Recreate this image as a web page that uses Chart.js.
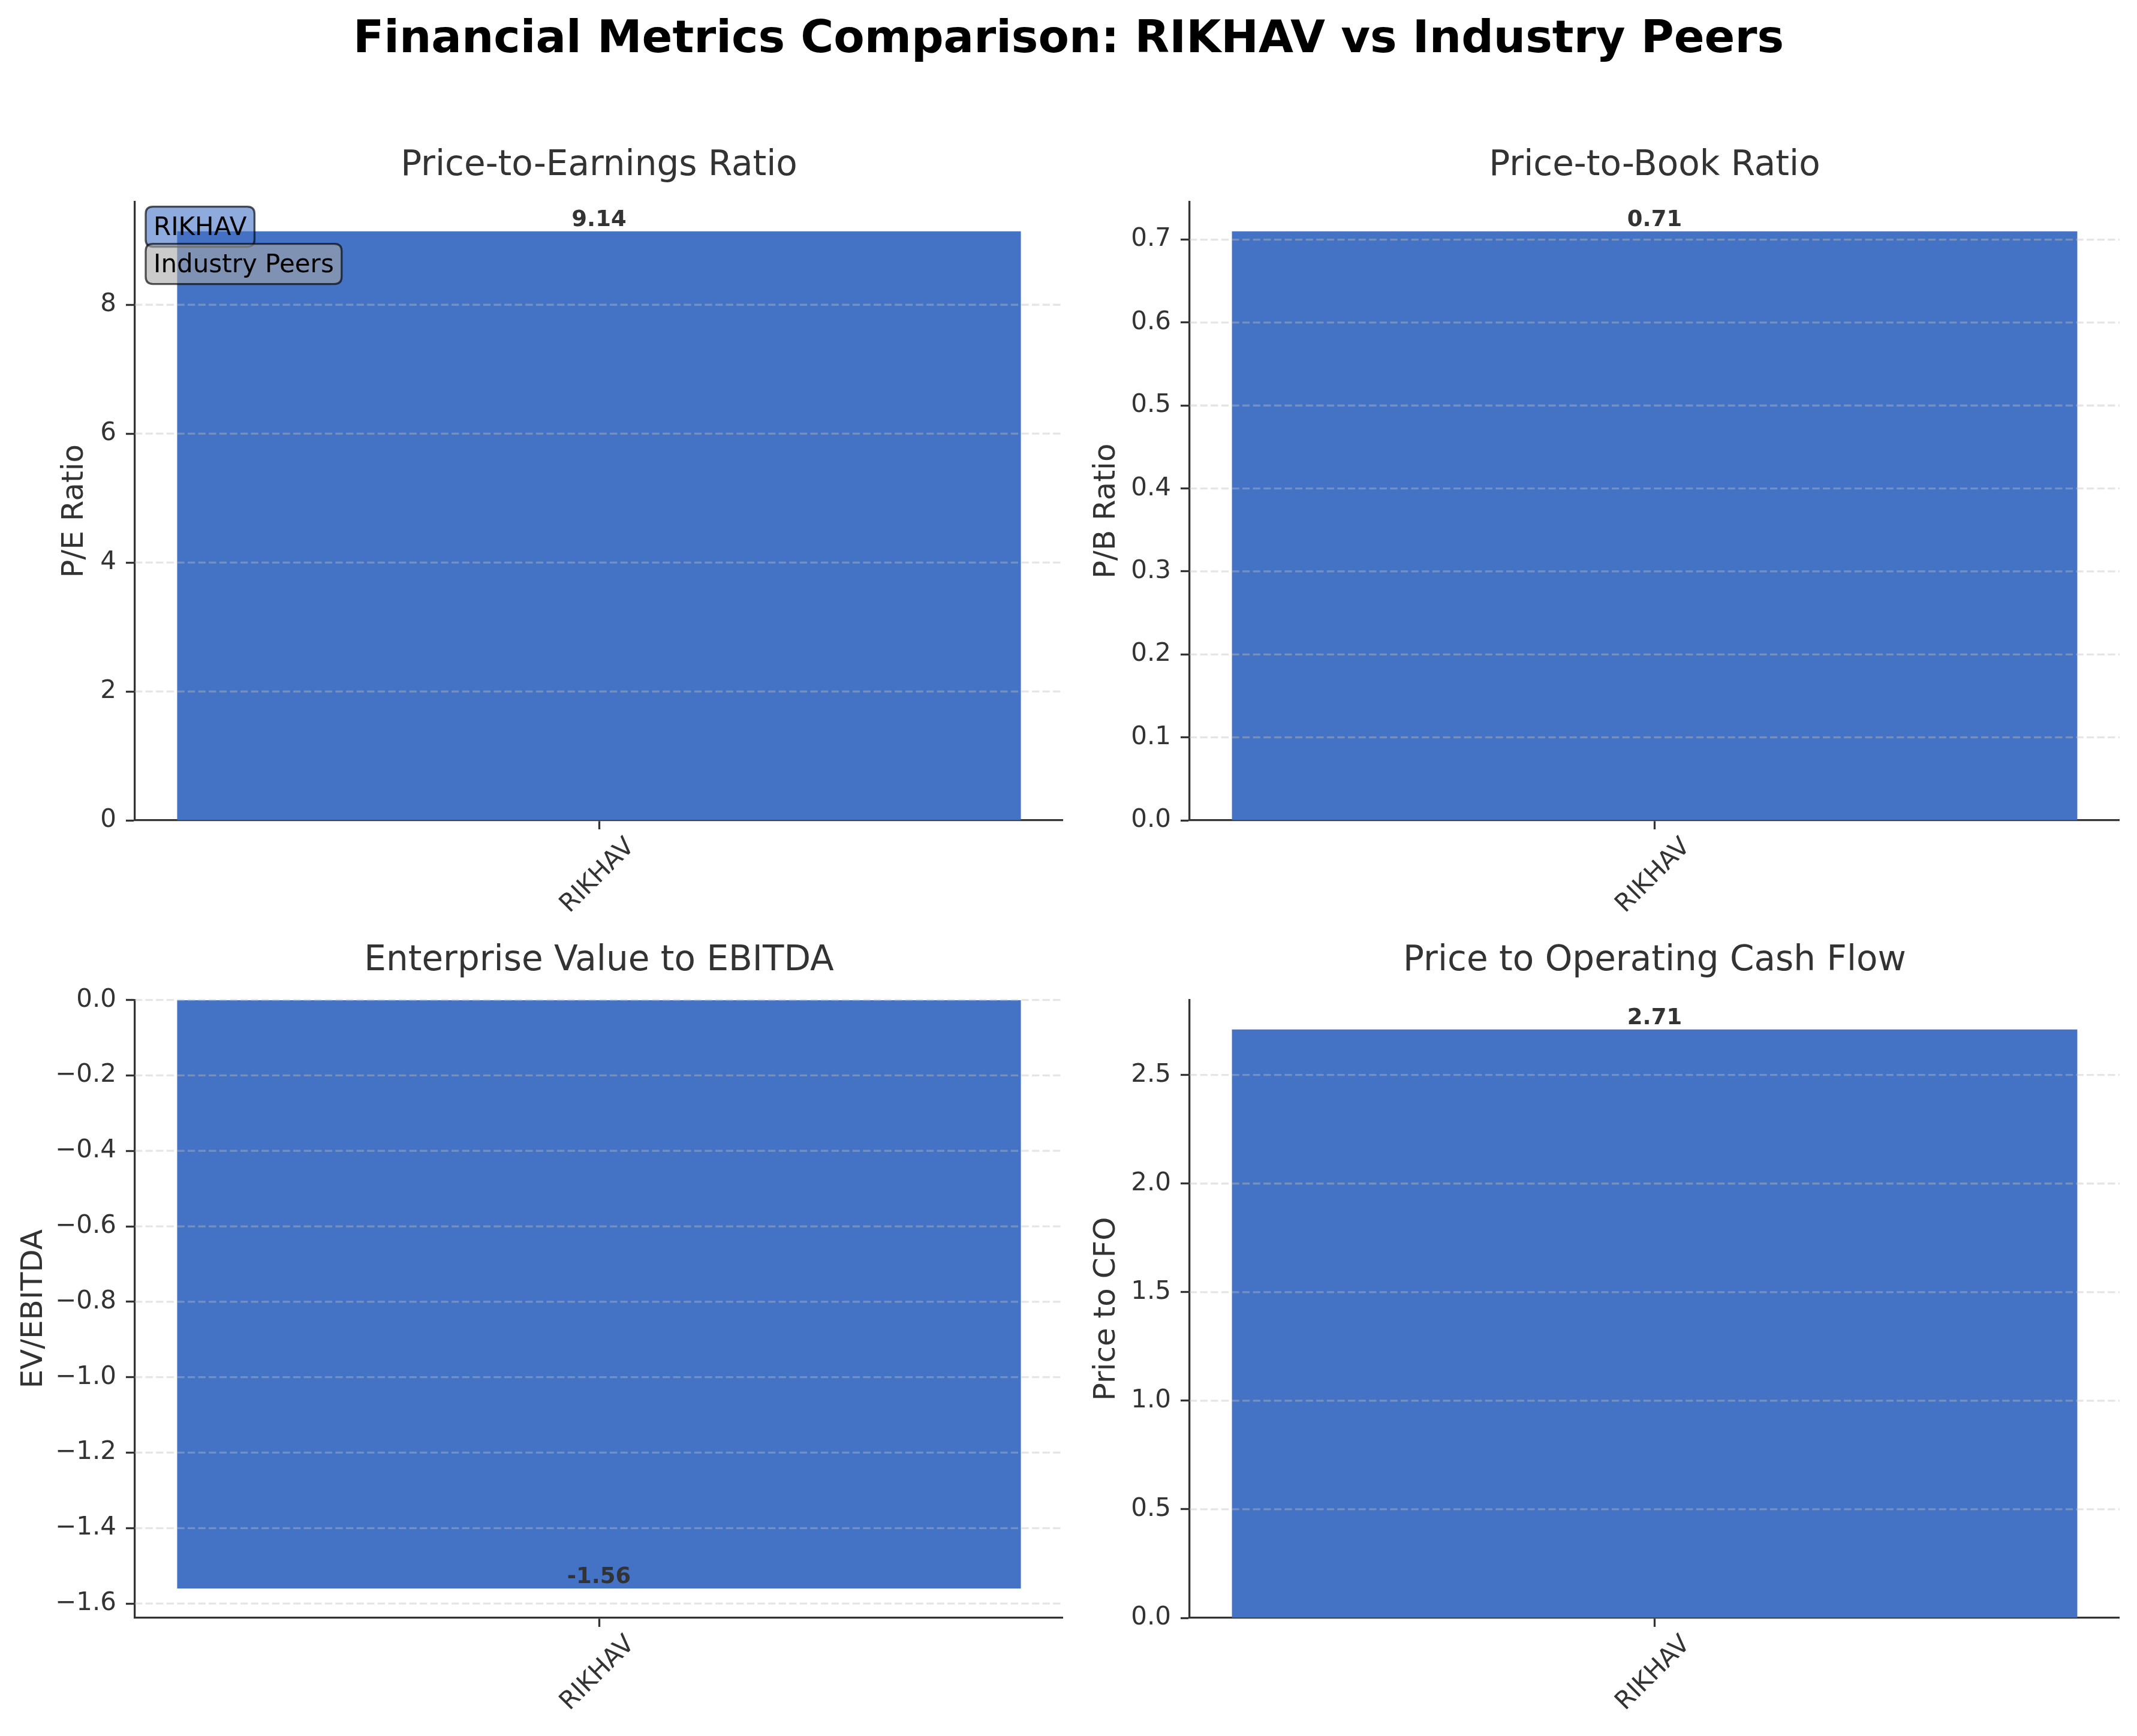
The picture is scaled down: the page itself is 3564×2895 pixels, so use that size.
<!DOCTYPE html>
<html lang="en">
  <head>
    <meta charset="UTF-8" />
    <title>Financial Metrics Comparison: RIKHAV vs Industry Peers</title>
    <style>
      body {
        margin: 0;
        background: #fff;
        width: 3564px;
        height: 2895px;
        position: relative;
        overflow: hidden;
        font-family: "DejaVu Sans", sans-serif;
      }
      #mainTitle {
        position: absolute;
        left: 0;
        top: 16px;
        width: 3564px;
        text-align: center;
        font-weight: bold;
        font-size: 75px;
        line-height: 90px;
        color: #000;
      }
      canvas {
        position: absolute;
      }
    </style>
    <script src="https://cdn.jsdelivr.net/npm/chart.js"></script>
  </head>
  <body>
    <div id="mainTitle">Financial Metrics Comparison: RIKHAV vs Industry Peers</div>

    <canvas id="peChart" width="1773" height="1316" style="left: 0px; top: 242px"></canvas>
    <canvas id="pbChart" width="1755" height="1316" style="left: 1780px; top: 242px"></canvas>
    <canvas id="evChart" width="1773" height="1320" style="left: 0px; top: 1568px"></canvas>
    <canvas id="cfoChart" width="1755" height="1320" style="left: 1780px; top: 1568px"></canvas>

    <script>
      // data
      const companies = ["RIKHAV"];
      const peRatio = [9.14];
      const pbRatio = [0.71];
      const evEbitda = [-1.56];
      const priceToCfo = [2.71];

      const peTicks = [0, 2, 4, 6, 8];
      const pbTicks = [0, 0.1, 0.2, 0.3, 0.4, 0.5, 0.6, 0.7];
      const evTicks = [-1.6, -1.4, -1.2, -1.0, -0.8, -0.6, -0.4, -0.2, 0];
      const cfoTicks = [0, 0.5, 1.0, 1.5, 2.0, 2.5];

      const legendLabels = ["RIKHAV", "Industry Peers"];

      Chart.defaults.font.family = '"DejaVu Sans", sans-serif';
      Chart.defaults.color = "#333333";

      const barColor = "#4472C4";
      const axisColor = "#333333";

      // dashed grid drawn on top of the bars
      const dashedGrid = {
        id: "dashedGrid",
        afterDatasetsDraw(chart) {
          const { ctx, chartArea } = chart;
          const y = chart.scales.y;
          ctx.save();
          ctx.strokeStyle = "rgba(190,190,190,0.4)";
          ctx.lineWidth = 3.3;
          ctx.setLineDash([12.3, 5.3]);
          y.ticks.forEach((t) => {
            const py = y.getPixelForValue(t.value);
            if (Math.abs(py - chartArea.bottom) < 3) return;
            ctx.beginPath();
            ctx.moveTo(chartArea.left, py);
            ctx.lineTo(chartArea.right, py);
            ctx.stroke();
          });
          ctx.restore();
        },
      };

      // value text at the end of each bar
      const valueLabels = {
        id: "valueLabels",
        afterDatasetsDraw(chart) {
          const { ctx } = chart;
          const meta = chart.getDatasetMeta(0);
          const values = chart.data.datasets[0].data;
          ctx.save();
          ctx.font = 'bold 37px "DejaVu Sans"';
          ctx.fillStyle = "#333333";
          ctx.textAlign = "center";
          ctx.textBaseline = "bottom";
          meta.data.forEach((bar, i) => {
            ctx.fillText(values[i].toFixed(2), bar.x, bar.y);
          });
          ctx.restore();
        },
      };

      function roundBox(ctx, x, y, w, h, r) {
        ctx.beginPath();
        ctx.moveTo(x + r, y);
        ctx.lineTo(x + w - r, y);
        ctx.quadraticCurveTo(x + w, y, x + w, y + r);
        ctx.lineTo(x + w, y + h - r);
        ctx.quadraticCurveTo(x + w, y + h, x + w - r, y + h);
        ctx.lineTo(x + r, y + h);
        ctx.quadraticCurveTo(x, y + h, x, y + h - r);
        ctx.lineTo(x, y + r);
        ctx.quadraticCurveTo(x, y, x + r, y);
        ctx.closePath();
      }

      // the two tag boxes in the first panel
      const tagLegend = {
        id: "tagLegend",
        afterDraw(chart) {
          const { ctx, chartArea } = chart;
          const fills = ["rgba(68,114,196,0.6)", "rgba(169,169,169,0.6)"];
          ctx.save();
          ctx.font = '42px "DejaVu Sans"';
          ctx.textBaseline = "alphabetic";
          ctx.textAlign = "left";
          legendLabels.forEach((label, i) => {
            const baseline = chartArea.top + 55 + i * 62;
            const x = chartArea.left + 18;
            const w = ctx.measureText(label).width + 26;
            roundBox(ctx, x, baseline - 47, w, 67, 12);
            ctx.fillStyle = fills[i];
            ctx.fill();
            ctx.lineWidth = 3.3;
            ctx.strokeStyle = "rgba(0,0,0,0.65)";
            ctx.stroke();
            ctx.fillStyle = "#000";
            ctx.fillText(label, x + 13, baseline);
          });
          ctx.restore();
        },
      };

      function setupChart(id, cfg) {
        const ctx = document.getElementById(id).getContext("2d");
        const v = cfg.values[0];
        const yMin = v < 0 ? v * 1.05 : 0;
        const yMax = v < 0 ? 0 : v * 1.05;
        const plugins = [dashedGrid, valueLabels];
        if (cfg.legend) plugins.push(tagLegend);
        return new Chart(ctx, {
          type: "bar",
          data: {
            labels: companies,
            datasets: [
              {
                data: cfg.values,
                backgroundColor: barColor,
                borderWidth: 0,
                barPercentage: 0.909,
                categoryPercentage: 1.0,
              },
            ],
          },
          options: {
            responsive: false,
            animation: false,
            devicePixelRatio: 1,
            layout: { padding: 0 },
            plugins: {
              legend: { display: false },
              tooltip: { enabled: false },
              title: {
                display: true,
                fullSize: false,
                text: cfg.title,
                color: "#333333",
                font: { size: 58, weight: "normal" },
                padding: { top: 0, bottom: cfg.titlePad },
              },
            },
            scales: {
              x: {
                offset: true,
                grid: {
                  display: true,
                  drawOnChartArea: false,
                  drawTicks: true,
                  offset: false,
                  tickLength: 15,
                  tickColor: axisColor,
                  tickWidth: 3.3,
                },
                border: { display: true, color: axisColor, width: 3.3 },
                ticks: {
                  font: { size: 42 },
                  color: "#333333",
                  minRotation: 45,
                  maxRotation: 45,
                  labelOffset: 53,
                  padding: 5,
                },
                afterFit: (s) => {
                  s.height = 190;
                },
              },
              y: {
                min: yMin,
                max: yMax,
                grid: {
                  display: true,
                  drawOnChartArea: false,
                  drawTicks: true,
                  tickLength: 15,
                  tickColor: axisColor,
                  tickWidth: 3.3,
                },
                border: { display: true, color: axisColor, width: 3.3 },
                ticks: {
                  font: { size: 42 },
                  color: "#333333",
                  padding: 16,
                  callback: (val) => {
                    const s = Math.abs(val).toFixed(cfg.decimals);
                    return val < -1e-9 ? "\u2212" + s : s;
                  },
                },
                afterBuildTicks: (s) => {
                  s.ticks = cfg.ticks.map((t) => ({ value: t }));
                },
                title: {
                  display: true,
                  text: cfg.yLabel,
                  color: "#333333",
                  font: { size: 50 },
                  padding: { top: cfg.yTitlePad, bottom: 0 },
                },
                afterFit: (s) => {
                  s.width = cfg.yWidth;
                },
              },
            },
          },
          plugins: plugins,
        });
      }

      setupChart("peChart", {
        title: "Price-to-Earnings Ratio",
        yLabel: "P/E Ratio",
        values: peRatio,
        ticks: peTicks,
        decimals: 0,
        yWidth: 225,
        yTitlePad: 95,
        titlePad: 25,
        legend: true,
      });

      setupChart("pbChart", {
        title: "Price-to-Book Ratio",
        yLabel: "P/B Ratio",
        values: pbRatio,
        ticks: pbTicks,
        decimals: 1,
        yWidth: 204,
        yTitlePad: 36,
        titlePad: 25,
      });

      setupChart("evChart", {
        title: "Enterprise Value to EBITDA",
        yLabel: "EV/EBITDA",
        values: evEbitda,
        ticks: evTicks,
        decimals: 1,
        yWidth: 225,
        yTitlePad: 27,
        titlePad: 30,
      });

      setupChart("cfoChart", {
        title: "Price to Operating Cash Flow",
        yLabel: "Price to CFO",
        values: priceToCfo,
        ticks: cfoTicks,
        decimals: 1,
        yWidth: 204,
        yTitlePad: 36,
        titlePad: 30,
      });
    </script>
  </body>
</html>
